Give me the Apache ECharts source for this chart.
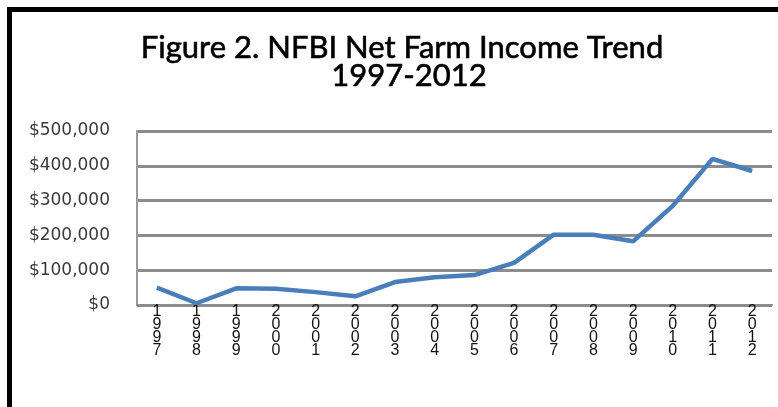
<!DOCTYPE html>
<html>
<head>
<meta charset="utf-8">
<script src="https://cdn.jsdelivr.net/npm/echarts@6/dist/echarts.min.js"></script>
<style>
html,body{margin:0;padding:0;background:#fff;}
#wrap{position:relative;width:778px;height:407px;overflow:hidden;background:#fff;}
#frame{position:absolute;left:7px;top:7px;width:800px;height:420px;border-top:5px solid #000;border-left:5px solid #000;box-sizing:border-box;pointer-events:none;z-index:2;}
#chart{position:absolute;left:0;top:0;width:778px;height:407px;}
</style>
</head>
<body>
<div id="wrap"><div id="chart"></div><div id="frame"></div></div>
<script>
const titleLines = ['Figure 2. NFBI Net Farm Income Trend', '1997-2012'];
const years = ['1997','1998','1999','2000','2001','2002','2003','2004','2005','2006','2007','2008','2009','2010','2011','2012'];
const netFarmIncome = [50000, 5000, 48000, 47000, 37000, 25000, 66000, 80000, 86000, 121000, 202000, 202000, 183000, 285000, 420000, 385000];
const yTicks = [0, 100000, 200000, 300000, 400000, 500000];

const chart = echarts.init(document.getElementById('chart'), null, {renderer: 'canvas'});
chart.setOption({
  animation: false,
  backgroundColor: '#ffffff',
  graphic: [
    {type: 'text', x: 402, y: 48, style: {text: titleLines[0], font: '31px Lato', fill: '#000', stroke: '#000', lineWidth: 0.6, textAlign: 'center', textVerticalAlign: 'middle'}},
    {type: 'text', x: 409, y: 76, style: {text: titleLines[1], font: '31px Lato', fill: '#000', stroke: '#000', lineWidth: 0.6, textAlign: 'center', textVerticalAlign: 'middle'}}
  ],
  grid: {left: 137, right: 6, top: 131, bottom: 102, containLabel: false},
  xAxis: {
    type: 'category',
    data: years,
    boundaryGap: true,
    axisLine: {show: true, lineStyle: {color: '#8c8c8c', width: 2}},
    axisTick: {show: false},
    axisLabel: {
      interval: 0,
      margin: 0,
      color: '#111',
      fontFamily: 'Liberation Sans',
      fontSize: 16,
      lineHeight: 13,
      formatter: v => v.split('').join('\n')
    },
    splitLine: {show: false}
  },
  yAxis: {
    type: 'value',
    min: yTicks[0],
    max: yTicks[yTicks.length - 1],
    interval: yTicks[1] - yTicks[0],
    axisLine: {show: true, lineStyle: {color: '#9a9a9a', width: 2}},
    axisTick: {show: false},
    axisLabel: {
      margin: 27,
      color: '#3a3a3a',
      fontFamily: 'DejaVu Sans',
      fontSize: 17,
      formatter: v => '$' + v.toLocaleString('en-US')
    },
    splitLine: {show: true, lineStyle: {color: '#8c8c8c', width: 3}}
  },
  series: [{
    type: 'line',
    data: netFarmIncome,
    showSymbol: false,
    symbol: 'none',
    lineStyle: {color: '#4a7ebb', width: 4.5},
    itemStyle: {color: '#4a7ebb'}
  }]
});
</script>
</body>
</html>
